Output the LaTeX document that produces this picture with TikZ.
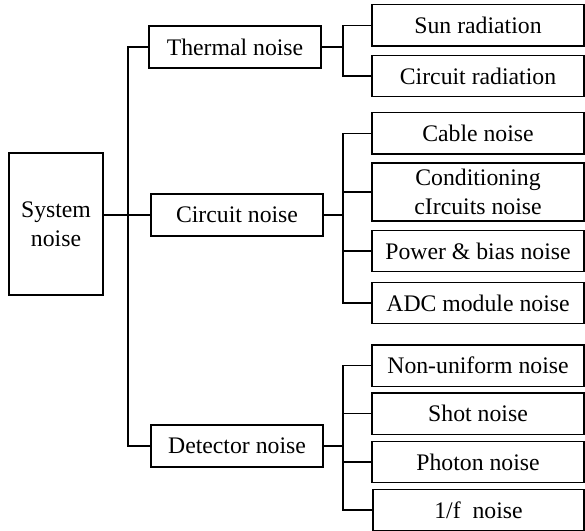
\documentclass[tikz,border=0pt]{standalone}
\usepackage{fontspec}
\setmainfont{Liberation Serif}
\usepackage{tikz}

\tikzset{
  box/.style={draw, line width=1pt, inner sep=0pt, align=center,
    font=\fontsize{17.8}{21.8}\selectfont},
  midbox/.style={box, minimum width=129pt, minimum height=31.5pt},
  leafbox/.style={box, minimum width=159pt, minimum height=31pt},
  link/.style={line width=1pt},
  heavy/.style={line width=1.6pt}
}

\begin{document}
\begin{tikzpicture}[x=0.75pt, y=-0.75pt]
  \useasboundingbox (0,0) rectangle (585,531);
  % ROOT AND FIRST LEVEL
  \node[box, minimum width=70.5pt, minimum height=106.5pt] (sys) at (56,224) {System\\noise};
  \node[midbox] (thermal) at (235,47) {Thermal noise};
  \node[midbox] (circuit) at (237,215) {Circuit noise};
  \node[midbox] (detector) at (237,446) {Detector noise};
  % Trunk
  \coordinate (trunk) at (128,215);
  \draw[heavy] (sys.east |- circuit.west) -- (trunk |- circuit.west);
  \draw[link] (thermal.west) -| (trunk) |- (detector.west);
  \draw[link] (trunk |- circuit.west) -- (circuit.west);
  % THERMAL NOISE BRANCH
  \node[leafbox] (sun) at (478,25.5) {Sun radiation};
  \node[leafbox] (circrad) at (478,76) {Circuit radiation};
  \coordinate (tb) at (343,47);
  \draw[heavy] (thermal.east) -- (tb);
  \draw[link] (sun.west) -| (tb) |- (circrad.west);
  % CIRCUIT NOISE BRANCH
  \node[leafbox] (cable) at (478,133.5) {Cable noise};
  \node[leafbox, minimum height=43.5pt] (cond) at (478,192) {Conditioning\\cIrcuits noise};
  \node[leafbox] (power) at (478,251) {Power \& bias noise};
  \node[leafbox] (adc) at (478,303) {ADC module noise};
  \coordinate (cb) at (343,215);
  \draw[heavy] (circuit.east) -- (cb);
  \draw[link] (cable.west) -| (cb) |- (adc.west);
  \draw[link] (cb |- cond.west) -- (cond.west);
  \draw[link] (cb |- power.west) -- (power.west);
  % DETECTOR NOISE BRANCH
  \node[leafbox] (nonuni) at (478,365.5) {Non-uniform noise};
  \node[leafbox] (shot) at (478,413.5) {Shot noise};
  \node[leafbox] (photon) at (478,462) {Photon noise};
  \node[leafbox, minimum width=158.25pt] (onef) at (478.5,510) {1/f\ \ noise};
  \coordinate (db) at (343,446);
  \draw[link] (detector.east) -- (db);
  \draw[link] (nonuni.west) -| (db) |- (onef.west);
  \draw[link] (db |- shot.west) -- (shot.west);
  \draw[link] (db |- photon.west) -- (photon.west);
\end{tikzpicture}
\end{document}
